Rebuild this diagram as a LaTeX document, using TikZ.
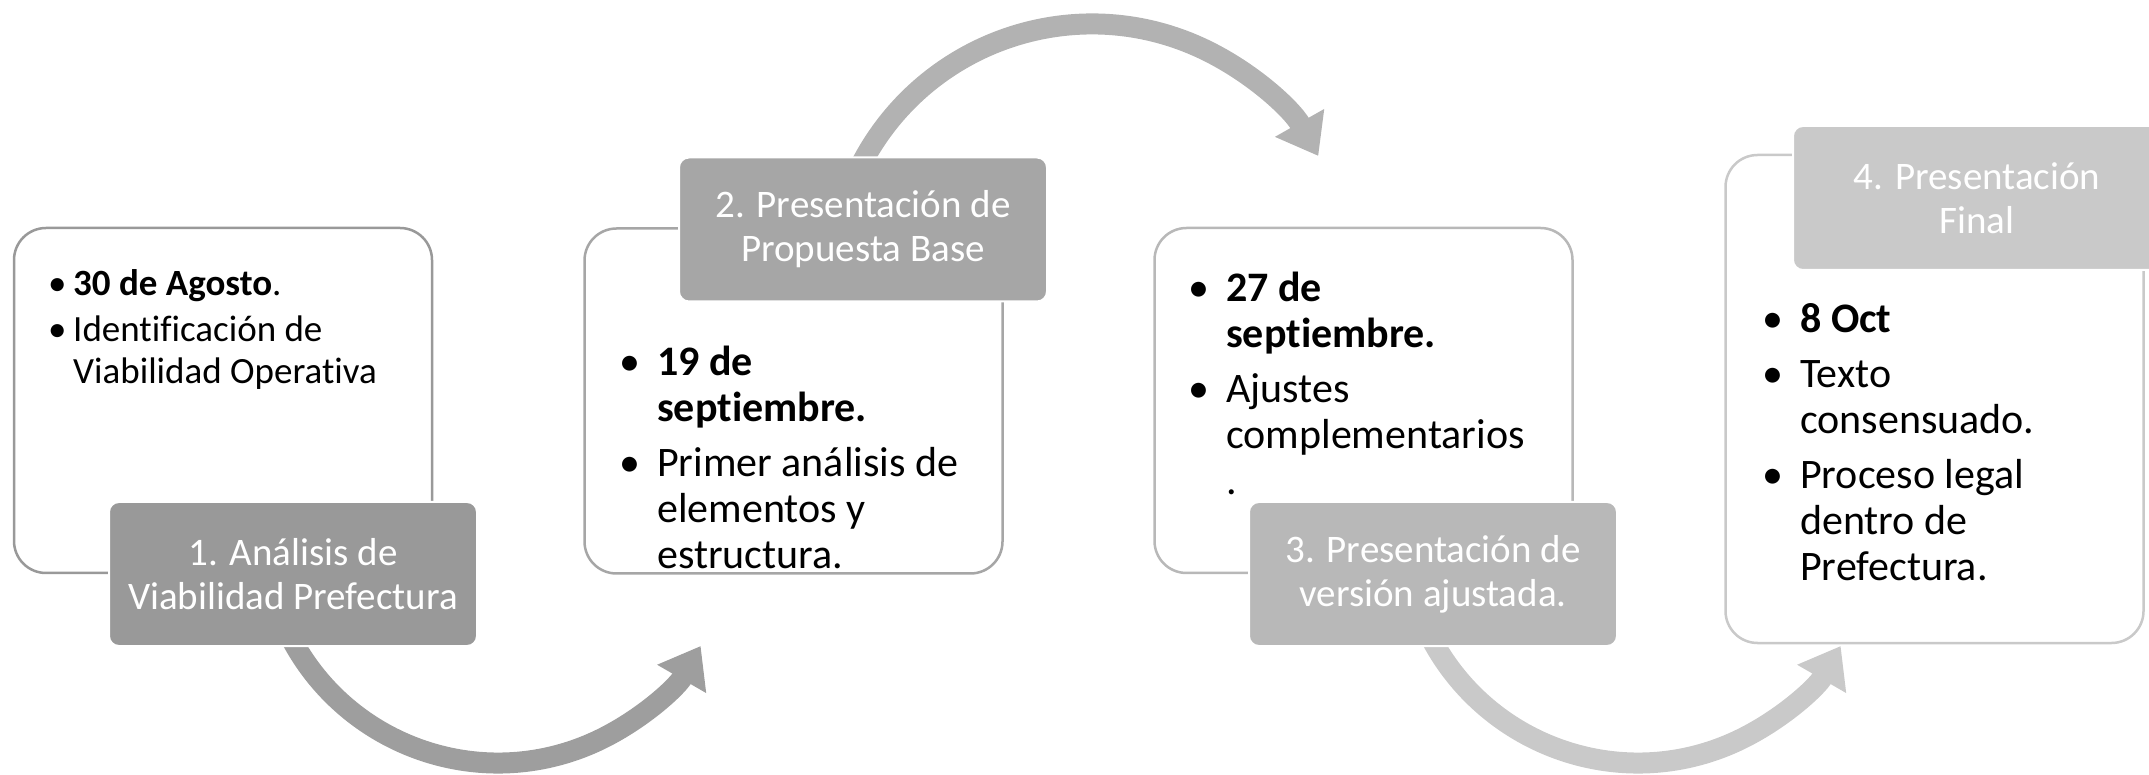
\documentclass[tikz,border=0pt]{standalone}
\usepackage{fontspec}
\setmainfont{Carlito}[Ligatures=NoCommon,RawFeature=-calt]
\usetikzlibrary{arrows.meta,positioning}

\newcommand{\bul}[1][38pt]{\makebox[#1][l]{\textbullet}}

\begin{document}
\begin{tikzpicture}[x=1pt,y=1pt]
\colorlet{step one}{black!40}
\colorlet{step two}{black!35}
\colorlet{step three}{black!28}
\colorlet{step four}{black!21}
\tikzset{
     outline/.style={draw, line width=2.5pt, fill=white, rounded corners=32pt,
       minimum width=418pt, minimum height=345pt, inner sep=0pt},
     steplabel/.style={draw=white, line width=2pt, rounded corners=10pt,
       minimum width=368pt, minimum height=144pt, inner sep=0pt,
       text=white, align=center, font=\fontsize{39}{44}\selectfont},
     bendarrow/.style={line width=21pt, -{Triangle[length=38pt,width=54pt]}},
     bullets/.style={anchor=base west, inner sep=0pt, font=\fontsize{42}{46}\selectfont}}

\useasboundingbox (0,0) rectangle (2149,774);

% The boxes
\node (firstbox)  [outline, draw=step one]   at (223,373.5) {};
\node (secondbox) [outline, draw=step two]   at (793.5,373) {};
\node (thirdbox)  [outline, draw=step three] at (1363.5,373.5) {};
\node (fourthbox) [outline, draw=step four, minimum height=488pt] at (1934.5,375) {};

% The arrows (centres of the arcs)
\coordinate (firstturn)  at (498,245);
\coordinate (secondturn) at (1092,490);
\coordinate (thirdturn)  at (1638,245);

\draw [bendarrow, black!38] ([shift={(205:234)}]firstturn)
  arc[start angle=205, end angle=330, radius=234pt];
\draw [bendarrow, black!30] ([shift={(155:260)}]secondturn)
  arc[start angle=155, end angle=29.5, radius=260pt];
\draw [bendarrow, black!21] ([shift={(205:234)}]thirdturn)
  arc[start angle=205, end angle=330, radius=234pt];

% The labels
\node (firstlabel)  [steplabel, fill=step one]   at (293,200)  {1. Análisis de\\Viabilidad Prefectura};
\node (secondlabel) [steplabel, fill=step two]   at (863,544.5) {2. Presentación de\\Propuesta Base};
\node (thirdlabel)  [steplabel, fill=step three] at (1433,200) {3. Presentación de\\versión ajustada.};
\node (fourthlabel) [steplabel, fill=step four]  at (1977,576) {4. Presentación\\Final};

% The texts
\node (firsttext) [bullets, font=\fontsize{37}{42}\selectfont] at (48,478) {%
  \begin{tabular}[t]{@{}l@{}l@{}}
  \bul[25pt] & \textbf{30 de Agosto}.\\[4pt]
  \bul[25pt] & Identificación de\\
             & Viabilidad Operativa
  \end{tabular}};
\node (secondtext) [bullets] at (619,398) {%
  \begin{tabular}[t]{@{}l@{}l@{}}
  \bul & \textbf{19 de}\\
       & \textbf{septiembre.}\\[9pt]
  \bul & Primer análisis de\\
       & elementos y\\
       & estructura.
  \end{tabular}};
\node (thirdtext) [bullets] at (1188,472) {%
  \begin{tabular}[t]{@{}l@{}l@{}}
  \bul & \textbf{27 de}\\
       & \textbf{septiembre.}\\[9pt]
  \bul & Ajustes\\
       & complementarios\\
       & .
  \end{tabular}};
\node (fourthtext) [bullets] at (1762,441) {%
  \begin{tabular}[t]{@{}l@{}l@{}}
  \bul & \textbf{8 Oct}\\[9pt]
  \bul & Texto\\
       & consensuado.\\[9pt]
  \bul & Proceso legal\\
       & dentro de\\
       & Prefectura.
  \end{tabular}};
\end{tikzpicture}
\end{document}
